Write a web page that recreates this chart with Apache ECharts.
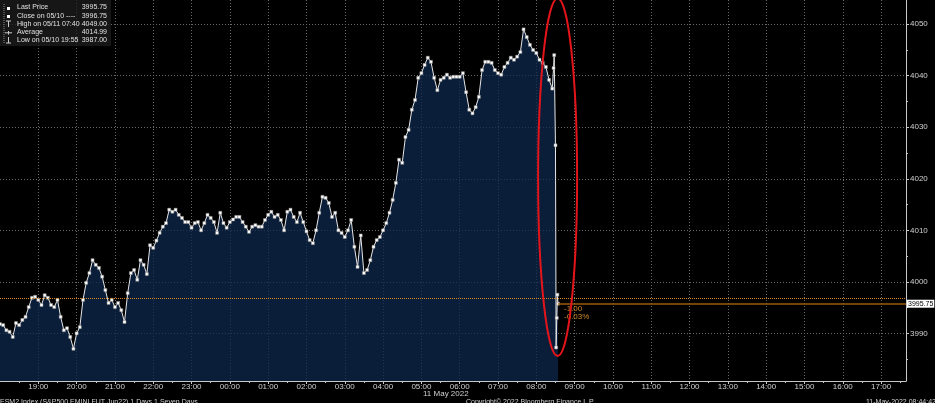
<!DOCTYPE html>
<html><head><meta charset="utf-8">
<script src="https://cdn.jsdelivr.net/npm/echarts@6/dist/echarts.min.js"></script>
<style>html,body{margin:0;padding:0;background:#000;overflow:hidden}#c{width:935px;height:403px;}</style>
</head><body><div id="c"></div>
<script>
// ---- data (5-minute samples starting 10 May 2022 18:00) ----
const stepMinutes = 5;
const prices1800 = [3991.8, 3991.6, 3990.6, 3990.3, 3989.3, 3992.0, 3991.6, 3992.6, 3993.2, 3995.1, 3996.9, 3997.1, 3996.5, 3995.5, 3997.4, 3996.9, 3995.5, 3995.1, 3996.5, 3993.2, 3990.6, 3991.0, 3989.3, 3987.0, 3990.0];
const prices2005 = [3991.2, 3996.5, 3999.8, 4001.7, 4004.2, 4003.3, 4002.7, 4001.0, 3998.4, 3995.9, 3996.5, 3995.1, 3995.9, 3994.5, 3992.2, 3997.8, 4001.7, 4002.3, 4000.4, 4004.2, 4003.3, 4001.5, 4007.1, 4006.6];
const prices2205 = [4008.0, 4009.5, 4010.7, 4011.4, 4014.0, 4013.6, 4014.0, 4013.0, 4012.4, 4011.6, 4011.6, 4010.5, 4011.4, 4011.6, 4010.0, 4011.4, 4013.0, 4012.4, 4011.6, 4009.5, 4013.4, 4011.4, 4010.5, 4011.6];
const prices0005 = [4012.1, 4012.6, 4012.6, 4011.6, 4010.7, 4009.7, 4010.7, 4011.0, 4010.7, 4010.7, 4012.0, 4013.0, 4013.6, 4012.6, 4013.0, 4012.0, 4010.0, 4013.6, 4014.0, 4012.6, 4011.6, 4013.4, 4011.6, 4009.8];
const prices0205 = [4008.1, 4007.5, 4010.0, 4013.4, 4016.5, 4016.3, 4015.3, 4012.6, 4013.4, 4010.0, 4009.5, 4008.7, 4010.0, 4012.0, 4006.8, 4002.9, 4009.0, 4001.7, 4002.3, 4004.2, 4006.8, 4008.1, 4008.7, 4010.0];
const prices0405 = [4011.4, 4013.4, 4015.9, 4019.2, 4023.7, 4023.1, 4028.1, 4029.5, 4033.4, 4035.3, 4039.6, 4040.5, 4042.1, 4043.5, 4042.7, 4039.6, 4037.2, 4039.2, 4039.6, 4040.2, 4039.6, 4039.8, 4039.8, 4039.8];
const prices0605 = [4040.5, 4036.8, 4033.4, 4032.7, 4033.9, 4035.9, 4041.1, 4042.7, 4042.7, 4042.5, 4041.1, 4040.5, 4040.2, 4041.7, 4042.5, 4043.5, 4043.1, 4043.7, 4044.6, 4049.0, 4047.5, 4046.0, 4045.0, 4044.4, 4043.1, 4042.5, 4041.7, 4039.2, 4037.5];
// last minutes (drop)
const tailTimes = ['08:27', '08:28', '08:30', '08:31', '08:32', '08:33', '08:34'];
const tailPrices = [4041.5, 4044.0, 4026.5, 3987.25, 3993.0, 3997.5, 3995.75];

const lastPrice = 3995.75;
const prevClose = 3996.75;

const hourLabels = ['19:00','20:00','21:00','22:00','23:00','00:00','01:00','02:00','03:00','04:00','05:00','06:00','07:00','08:00','09:00','10:00','11:00','12:00','13:00','14:00','15:00','16:00','17:00'];
const halfHourLabels = ['18:30','19:30','20:30','21:30','22:30','23:30','00:30','01:30','02:30','03:30','04:30','05:30','06:30','07:30','08:30','09:30','10:30','11:30','12:30','13:30','14:30','15:30','16:30','17:30'];
const yTicks = [3990, 4000, 4010, 4020, 4030, 4040, 4050];
const yMinorTicks = [3985, 3995, 4005, 4015, 4025, 4035, 4045];

const legendLabels = ['Last Price', 'Close on 05/10 ----', 'High on 05/11 07:40', 'Average', 'Low on 05/10 19:55'];
const legendValues = ['3995.75', '3996.75', '4049.00', '4014.99', '3987.00'];
const dateLabel = '11 May 2022';
const footerLeft = 'ESM2 Index (S&P500 EMINI FUT Jun22) 1 Days 1 Seven Days';
const footerCenter = 'Copyright\u00A9 2022 Bloomberg Finance L.P.';
const footerRight = '11-May-2022 08:44:42';

// ---- helpers ----
function ts(hhmm) {
  const [h, m] = hhmm.split(':').map(Number);
  const day = h >= 18 ? 10 : 11;
  return new Date(2022, 4, day, h, m).getTime();
}
const startTs = ts('18:00');
const mainPrices = [].concat(prices1800, prices2005, prices2205, prices0005, prices0205, prices0405, prices0605);
const seriesData = mainPrices.map((v, i) => [startTs + i * stepMinutes * 60000, v]);
tailTimes.forEach((t, i) => seriesData.push([ts(t), tailPrices[i]]));
const lastTs = seriesData[seriesData.length - 1][0];
const xMin = ts('18:00');
const xMax = ts('17:39');
const hourTicks = hourLabels.map(ts);
const halfTicks = halfHourLabels.map(ts);

const FONT = '"Liberation Sans", Arial, sans-serif';
const chart = echarts.init(document.getElementById('c'), null, {renderer: 'canvas'});

const pad2 = n => (n < 10 ? '0' : '') + n;
const option = {
  backgroundColor: '#000',
  animation: false,
  grid: {left: 0, right: 29, top: 0, bottom: 22, containLabel: false},
  xAxis: [{
    type: 'value', min: xMin, max: xMax, position: 'bottom',
    axisLine: {show: true, onZero: false, lineStyle: {color: '#c8c8c8', width: 1}},
    axisTick: {show: true, customValues: hourTicks, length: 3, lineStyle: {color: '#c8c8c8'}},
    axisLabel: {show: true, customValues: hourTicks, color: '#d0d0d0', fontSize: 8, fontFamily: FONT, margin: 2,
      formatter: v => { const d = new Date(v); return pad2(d.getHours()) + ':' + pad2(d.getMinutes()); }},
    splitLine: {show: true, lineStyle: {type: [1, 2], color: '#6a6a6a', width: 1}}
  }, {
    type: 'value', min: xMin, max: xMax, position: 'bottom',
    axisLine: {show: false, onZero: false},
    axisTick: {show: true, customValues: halfTicks, length: 2, lineStyle: {color: '#c8c8c8'}},
    axisLabel: {show: false, customValues: halfTicks},
    splitLine: {show: false}
  }],
  yAxis: [{
    type: 'value', min: 3980.75, max: 4054.7, position: 'right',
    axisLine: {show: true, onZero: false, lineStyle: {color: '#c8c8c8', width: 1}},
    axisTick: {show: true, customValues: yTicks, length: 3, lineStyle: {color: '#c8c8c8'}},
    axisLabel: {show: true, customValues: yTicks, color: '#d0d0d0', fontSize: 8, fontFamily: FONT, margin: 4,
      formatter: v => String(v)},
    splitLine: {show: true, lineStyle: {type: [1, 2], color: '#6a6a6a', width: 1}}
  }, {
    type: 'value', min: 3980.75, max: 4054.7, position: 'right',
    axisLine: {show: false, onZero: false},
    axisTick: {show: true, customValues: yMinorTicks, length: 2, lineStyle: {color: '#c8c8c8'}},
    axisLabel: {show: false, customValues: yMinorTicks},
    splitLine: {show: false}
  }],
  series: [{
    type: 'line',
    xAxisIndex: 0, yAxisIndex: 0,
    data: seriesData,
    showSymbol: true, showAllSymbol: true,
    symbol: 'rect', symbolSize: 3,
    itemStyle: {color: '#ffffff', borderColor: '#8a8a8a', borderWidth: 0.5},
    lineStyle: {color: '#e6e6e6', width: 1},
    areaStyle: {color: 'rgb(14,40,78)', opacity: 0.75, origin: 'start'},
    z: 3,
    markLine: {
      silent: true, symbol: ['none', 'none'],
      data: [
        [{coord: [xMin, prevClose], lineStyle: {type: [1, 1], color: '#d88a1c', width: 1}, label: {show: false}},
         {coord: [xMax, prevClose]}],
        [{coord: [lastTs, lastPrice], lineStyle: {type: 'solid', color: '#9c5a0c', width: 1.5},
          label: {show: true, position: 'end', distance: 1, formatter: lastPrice.toFixed(2),
            backgroundColor: '#ffffff', color: '#000', fontSize: 7, fontFamily: FONT, padding: [1, 1, 0, 1]}},
         {coord: [xMax, lastPrice]}]
      ]
    }
  }]
};
chart.setOption(option);

// ---- annotations positioned through the chart scales ----
const px = (t, v) => chart.convertToPixel({xAxisIndex: 0, yAxisIndex: 0}, [t, v]);
const dropPt = px(ts('08:31'), lastPrice);
const topPt = px(ts('08:31'), 4055);
const botPt = px(ts('08:31'), 3985.6);
const change = lastPrice - prevClose;
const pct = change / prevClose * 100;
const chgPt = px(lastTs, lastPrice);

const legendRows = legendLabels.map((lab, i) => {
  const y = 8.5 + i * 8.1;
  return [
    {type: 'text', left: 17, top: y - 4.5, style: {text: lab, fill: '#e0e0e0', font: '7px ' + FONT}},
    {type: 'text', right: 935 - 107, top: y - 4.5, style: {text: legendValues[i], fill: '#e0e0e0', font: '7px ' + FONT, textAlign: 'right'}}
  ];
}).flat();

chart.setOption({
  graphic: [
    {type: 'rect', shape: {x: 0, y: 0, width: 111, height: 46}, style: {fill: 'rgba(30,30,30,0.75)'}, z: 10},
    {type: 'line', shape: {x1: 4, y1: 4, x2: 4, y2: 43}, style: {stroke: '#888', lineWidth: 1, lineDash: [1, 1]}, z: 11},
    {type: 'rect', shape: {x: 7, y: 7, width: 3, height: 3}, style: {fill: '#fff'}, z: 11},
    {type: 'rect', shape: {x: 7, y: 15, width: 3, height: 3}, style: {fill: '#fff'}, z: 11},
    {type: 'line', shape: {x1: 6, y1: 21, x2: 11, y2: 21}, style: {stroke: '#ccc', lineWidth: 1}, z: 11},
    {type: 'line', shape: {x1: 8.5, y1: 21, x2: 8.5, y2: 27}, style: {stroke: '#ccc', lineWidth: 1}, z: 11},
    {type: 'line', shape: {x1: 5, y1: 32.8, x2: 12, y2: 32.8}, style: {stroke: '#ccc', lineWidth: 1}, z: 11},
    {type: 'line', shape: {x1: 8.5, y1: 31, x2: 8.5, y2: 34.6}, style: {stroke: '#ccc', lineWidth: 1}, z: 11},
    {type: 'line', shape: {x1: 8.5, y1: 37, x2: 8.5, y2: 43}, style: {stroke: '#ccc', lineWidth: 1}, z: 11},
    {type: 'line', shape: {x1: 6, y1: 43, x2: 11, y2: 43}, style: {stroke: '#ccc', lineWidth: 1}, z: 11},
    ...legendRows.map(g => Object.assign(g, {z: 12})),
    {type: 'ellipse', shape: {cx: dropPt[0] + 1.5, cy: (topPt[1] + botPt[1]) / 2, rx: 19.5, ry: (botPt[1] - topPt[1]) / 2},
      style: {fill: 'none', stroke: '#e4141b', lineWidth: 2}, z: 20},
    {type: 'text', left: chgPt[0] + 6, top: chgPt[1] + 1, style: {text: change.toFixed(2), fill: '#cf8a2a', font: '8px ' + FONT}, z: 15},
    {type: 'text', left: chgPt[0] + 6, top: chgPt[1] + 9, style: {text: pct.toFixed(2) + '%', fill: '#cf8a2a', font: '8px ' + FONT}, z: 15},
    {type: 'text', left: 423, top: 390, style: {text: dateLabel, fill: '#d0d0d0', font: '8px ' + FONT}, z: 15},
    {type: 'text', left: 0, top: 398.5, style: {text: footerLeft, fill: '#d0d0d0', font: '7px ' + FONT}, z: 15},
    {type: 'text', left: 466, top: 398.5, style: {text: footerCenter, fill: '#d0d0d0', font: '7px ' + FONT}, z: 15},
    {type: 'text', left: 866, top: 398.5, style: {text: footerRight, fill: '#d0d0d0', font: '7px ' + FONT}, z: 15}
  ]
});
</script>
</body></html>
